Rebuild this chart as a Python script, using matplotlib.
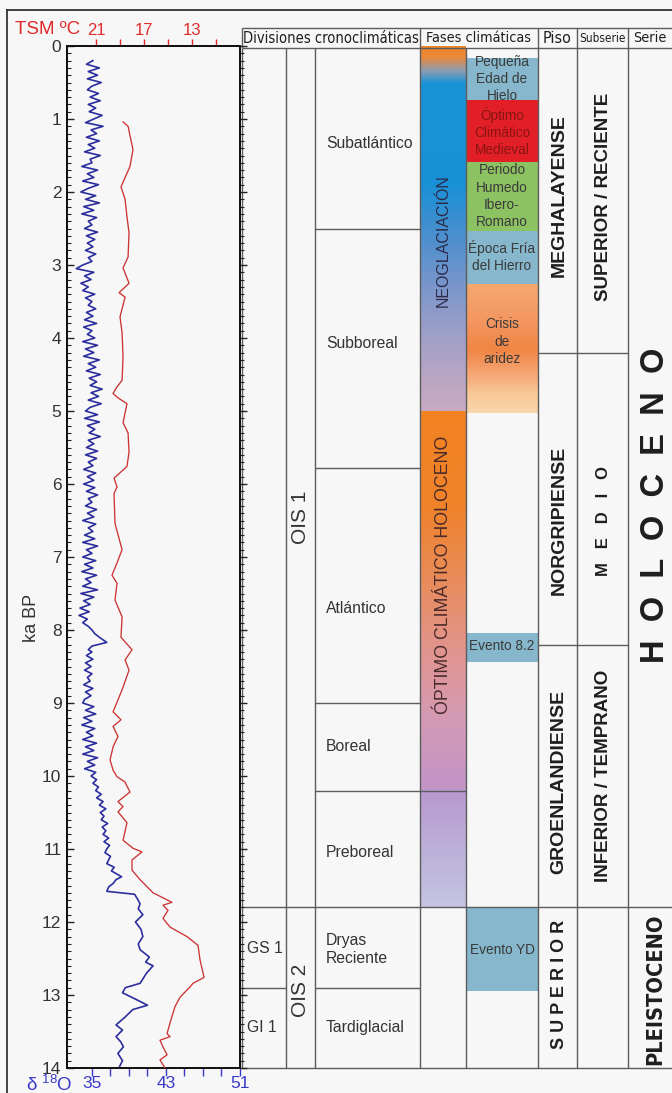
import numpy as np
import matplotlib
matplotlib.use('Agg')
import matplotlib.pyplot as plt
from matplotlib.colors import LinearSegmentedColormap
from matplotlib.patches import Rectangle
from matplotlib import font_manager
from matplotlib.font_manager import FontProperties

# ---------------- DATA ----------------
# delta 18O record (bottom axis), age in ka BP
d18o_age = [
 0.20,0.25,0.30,0.35,0.40,0.45,0.50,0.55,0.60,0.65,0.70,0.75,0.80,0.85,0.90,0.95,
 1.00,1.05,1.10,1.15,1.20,1.25,1.30,1.35,1.40,1.45,1.50,1.55,1.60,1.65,1.70,1.75,1.80,1.85,1.90,1.95,
 2.00,2.05,2.10,2.15,2.20,2.25,2.30,2.35,2.40,2.45,2.50,2.55,2.60,2.65,2.70,2.75,2.80,2.85,2.90,2.95,
 3.00,3.05,3.10,3.15,3.20,3.25,3.30,3.35,3.40,3.45,3.50,3.55,3.60,3.65,3.70,3.75,3.80,3.85,3.90,3.95,
 4.00,4.05,4.10,4.15,4.20,4.25,4.30,4.35,4.40,4.45,4.50,4.55,4.60,4.65,4.70,4.75,4.80,4.85,4.90,4.95,
 5.00,5.05,5.10,5.15,5.20,5.25,5.30,5.35,5.40,5.45,5.50,5.55,5.60,5.65,5.70,5.75,5.80,5.85,5.90,5.95,
 6.00,6.05,6.10,6.15,6.20,6.25,6.30,6.35,6.40,6.45,6.50,6.55,6.60,6.65,6.70,6.75,6.80,6.85,6.90,6.95,
 7.00,7.05,7.10,7.15,7.20,7.25,7.30,7.35,7.40,7.45,7.50,7.55,7.60,7.65,7.70,7.75,7.80,7.85,7.90,7.95,
 8.00,8.05,8.10,8.17,8.22,8.27,8.30,8.35,8.40,8.45,8.50,8.55,8.60,8.65,8.70,8.75,8.80,8.85,8.90,8.95,
 9.00,9.05,9.10,9.15,9.20,9.25,9.30,9.35,9.40,9.45,9.50,9.55,9.60,9.65,9.70,9.75,9.80,9.85,9.90,9.95,
 10.00,10.05,10.10,10.15,10.20,10.25,10.30,10.35,10.40,10.45,10.50,10.55,10.60,10.65,10.70,10.75,10.80,10.85,10.90,10.95,
 11.00,11.05,11.10,11.20,11.25,11.30,11.38,11.42,11.47,11.52,11.58,11.62,11.68,11.75,11.82,11.90,
 12.00,12.10,12.20,12.30,12.38,12.48,12.55,12.60,12.70,12.84,12.90,12.97,13.05,13.14,13.20,13.30,
 13.41,13.48,13.57,13.64,13.71,13.80,13.90,14.00]
d18o_val = [
 35.1,34.4,35.8,34.6,35.6,34.5,36.0,35.0,34.5,35.7,34.8,35.9,34.6,35.4,34.7,36.1,
 35.2,34.3,36.2,34.9,35.5,34.4,35.8,34.6,35.3,34.2,35.9,34.8,35.0,33.9,35.6,34.5,35.2,34.0,35.7,34.6,
 33.8,35.4,34.3,35.8,34.1,35.2,33.9,35.5,34.6,35.0,34.2,35.6,34.4,35.3,34.5,35.1,34.3,35.4,34.6,35.0,
 34.0,33.3,35.2,34.2,34.9,33.8,34.6,34.0,35.3,34.3,35.0,34.6,35.4,34.4,35.1,34.2,35.5,34.1,35.0,34.5,
 35.3,34.0,35.6,34.3,35.2,34.1,35.8,34.6,35.4,34.4,35.9,34.7,35.5,34.8,36.1,34.9,35.7,34.6,36.0,34.8,
 34.3,35.6,34.2,35.8,34.5,35.3,34.7,35.9,34.6,35.2,34.4,35.6,34.3,35.5,34.6,35.1,34.1,35.4,34.5,35.2,
 34.1,35.3,34.4,35.6,34.6,35.0,34.3,35.5,34.5,35.2,34.0,35.4,34.6,35.1,34.2,35.3,34.0,35.6,34.4,35.0,
 34.0,35.4,34.2,35.1,33.9,35.5,34.3,34.9,34.0,35.6,33.8,35.2,34.1,34.8,33.7,34.7,33.6,34.5,34.0,34.6,
 35.0,35.3,35.8,36.6,35.0,34.6,35.0,34.4,35.1,34.3,34.9,34.2,35.0,34.5,34.8,34.1,35.1,34.3,34.9,34.2,
 34.0,35.2,34.3,35.4,34.1,35.0,33.9,35.3,34.4,35.1,34.0,35.5,34.3,35.2,34.0,35.6,34.5,35.3,34.2,35.4,
 34.9,35.5,35.1,35.7,35.4,36.0,35.5,36.2,35.8,36.5,35.9,36.3,36.0,36.7,36.1,36.5,36.2,36.8,36.3,36.9,
 36.6,36.4,37.0,36.6,37.4,37.1,38.2,37.6,37.3,36.8,36.6,39.6,39.9,40.2,40.0,40.5,
 39.7,40.3,40.5,40.0,40.2,41.2,40.8,41.6,40.9,40.2,38.6,38.3,39.6,41.0,39.4,38.6,
 37.6,38.3,37.6,38.1,38.4,37.8,38.3,37.9]

# Sea-surface temperature TSM (top axis, ºC)
tsm_age = [1.04,1.10,1.42,1.65,1.93,2.10,2.34,2.56,2.89,3.04,3.25,3.38,3.44,3.71,3.93,4.26,4.58,
           4.68,4.76,4.82,4.90,5.16,5.30,5.56,5.76,5.92,6.04,6.13,6.54,6.90,7.08,7.25,7.36,7.59,
           7.82,8.10,8.27,8.41,8.55,8.82,9.12,9.23,9.32,9.46,9.60,9.78,9.92,10.01,10.08,10.22,
           10.35,10.42,10.49,10.64,10.88,10.99,11.04,11.15,11.29,11.42,11.60,11.73,11.77,11.84,
           11.95,12.07,12.20,12.32,12.52,12.70,12.76,12.84,12.89,13.03,13.16,13.38,13.53,13.57,
           13.62,13.71,13.82,13.89,14.00]
tsm_val = [18.75,18.33,17.92,18.17,18.92,18.58,18.42,18.25,18.33,18.75,18.25,19.08,18.58,19.00,18.83,18.75,18.83,
           19.30,19.58,19.17,18.42,18.75,18.33,18.25,18.42,19.50,19.25,19.50,19.42,18.83,19.25,19.67,19.25,19.42,
           18.83,18.92,18.00,18.58,18.25,18.83,19.58,18.92,19.58,19.17,19.58,19.83,19.58,19.25,18.60,18.17,
           19.17,18.75,19.17,18.42,18.75,17.92,17.17,18.00,18.00,17.33,16.25,14.67,15.42,15.00,
           15.42,14.83,13.42,12.50,12.33,12.08,12.00,12.92,13.17,14.00,14.42,14.83,15.08,14.83,
           15.67,15.42,15.08,15.67,15.25]

d18o_ticks = [35, 37, 39, 41, 43, 45, 47, 49, 51]
d18o_ticklabels = ['35', '', '', '', '43', '', '', '', '51']
tsm_ticks = [21, 19, 17, 15, 13, 11]
tsm_ticklabels = ['21', '', '17', '', '13', '']
age_ticks = list(range(0, 15))

# Chronoclimatic divisions (ka boundaries)
div_names = ['Subatlántico', 'Subboreal', 'Atlántico', 'Boreal', 'Preboreal', 'Dryas\nReciente', 'Tardiglacial']
div_bounds = [0.0, 2.5, 5.78, 9.0, 10.2, 11.8, 12.9, 14.0]
gs_names = ['GS 1', 'GI 1']
gs_bounds = [11.8, 12.9, 14.0]
ois_names = ['OIS 1', 'OIS 2']
ois_bounds = [0.0, 11.8, 14.0]

# Climatic phases
bar_names = ['NEOGLACIACIÓN', 'ÓPTIMO CLIMÁTICO HOLOCENO']
bar_bounds = [0.0, 5.0, 10.2, 11.8]
event_names = ['Pequeña\nEdad de\nHielo', 'Óptimo\nClimático\nMedieval', 'Periodo\nHumedo\nIbero-\nRomano',
               'Época Fría\ndel Hierro', 'Crisis\nde\naridez', 'Evento 8.2', 'Evento YD']
event_top = [0.16, 0.74, 1.59, 2.53, 3.27, 8.04, 11.8]
event_bot = [0.74, 1.59, 2.53, 3.27, 5.03, 8.44, 12.94]

piso_names = ['MEGHALAYENSE', 'NORGRIPIENSE', 'GROENLANDIENSE', 'S U P E R I O R']
piso_bounds = [0.0, 4.2, 8.2, 11.8, 14.0]
subserie_names = ['SUPERIOR / RECIENTE', 'M   E   D   I   O', 'INFERIOR / TEMPRANO', '']
serie_names = ['H  O  L  O  C  E  N  O', 'PLEISTOCENO']
serie_bounds = [0.0, 11.8, 14.0]

headers = ['Divisiones cronoclimáticas', 'Fases climáticas', 'Piso', 'Subserie', 'Serie']

# ---------------- STYLE / LAYOUT ----------------
W, H = 672, 1093
BG = '#f7f7f7'
LINE = '#5c5c5c'
TXT = '#333333'
BLUE = '#2b2e9c'
RED = '#cc3333'
FONT = ['Liberation Sans', 'DejaVu Sans']
plt.rcParams['font.family'] = FONT
plt.rcParams['mathtext.fontset'] = 'custom'
plt.rcParams['mathtext.rm'] = 'Liberation Sans'
plt.rcParams['mathtext.it'] = 'Liberation Sans:italic'
plt.rcParams['mathtext.bf'] = 'Liberation Sans:bold'


def _wt(f):
    w = f.weight
    if isinstance(w, str):
        return 700 if 'bold' in w else 400
    return int(w)


def find_condensed(bold):
    best = None
    for f in font_manager.fontManager.ttflist:
        cond = (f.stretch in ('condensed', 'semi-condensed', 'extra-condensed', 'ultra-condensed')
                or 'Narrow' in f.name or 'Condensed' in f.name)
        if not cond or f.style != 'normal':
            continue
        w = _wt(f)
        if (bold and w >= 600) or (not bold and 350 <= w <= 500):
            if best is None or 'Liberation' in f.name or 'Arial' in f.name:
                best = f
    return best


_cr = find_condensed(False)
_cb = find_condensed(True)
FP_NARROW = FontProperties(fname=_cr.fname) if _cr else FontProperties(family=FONT)
FP_NARROW_B = FontProperties(fname=_cb.fname) if _cb else FontProperties(family=FONT, weight='bold')

Y0, PXK = 46.0, 73.0
def kay(ypx):
    return (ypx - Y0) / PXK

fig = plt.figure(figsize=(W / 100, H / 100), dpi=100, facecolor=BG)
renderer = fig.canvas.get_renderer()

def fit(t, target, vertical=False, maxsize=None):
    bb = t.get_window_extent(renderer)
    cur = bb.height if vertical else bb.width
    s = t.get_fontsize() * target / cur
    if maxsize is not None:
        s = min(s, maxsize)
    t.set_fontsize(s)

# overlay axes in (pixel x, ka y)
axT = fig.add_axes([0, 0, 1, 1], zorder=0)
axT.set_axis_off()
axT.set_xlim(0, W)
axT.set_ylim(kay(H), kay(0))

# ---- plot axes ----
px0, px1, pyt, pyb = 67, 240, 46, 1068
ax = fig.add_axes([px0 / W, 1 - pyb / H, (px1 - px0) / W, (pyb - pyt) / H], zorder=2)
ax.set_facecolor(BG)
ax.set_ylim(14, 0)
ax.set_xlim(32.3, 51.0)
ax.plot(d18o_val, d18o_age, color=BLUE, lw=1.2, zorder=3)
ax.set_yticks(age_ticks)
ax.set_yticks(np.arange(0, 14.01, 0.1), minor=True)
ax.tick_params(axis='y', which='major', direction='in', length=5, width=1, labelsize=12.5, pad=4)
ax.tick_params(axis='y', which='minor', direction='in', length=3, width=0.8)
ax.tick_params(axis='y', which='both', colors='#222222', labelcolor=TXT, left=True, right=False)
ax.set_xticks(d18o_ticks)
ax.set_xticklabels(d18o_ticklabels)
ax.tick_params(axis='x', direction='out', length=6, width=1, colors='#3a3ac8', labelsize=12.5, pad=-0.5)
ax.set_ylabel('ka BP', fontsize=13, color=TXT)
ax.yaxis.set_label_coords(-0.155, 0.44)
for s in ax.spines.values():
    s.set_linewidth(1.3)
    s.set_color('#111111')

# right-side ticks pointing outward (into table)
axr = ax.secondary_yaxis('right')
axr.set_yticks(age_ticks)
axr.set_yticks(np.arange(0, 14.01, 0.1), minor=True)
axr.tick_params(axis='y', which='major', direction='out', length=5, width=1, colors='#222222', labelright=False)
axr.tick_params(axis='y', which='minor', direction='out', length=3, width=0.8, colors='#222222')
axr.set_yticklabels([])
axr.spines['right'].set_linewidth(1.3)

ax2 = ax.twiny()
ax2.set_xlim(23.42, 9.0)
ax2.plot(tsm_val, tsm_age, color=RED, lw=0.95, zorder=3)
ax2.set_xticks(tsm_ticks)
ax2.set_xticklabels(tsm_ticklabels)
ax2.tick_params(axis='x', direction='out', length=5, width=1, colors='#e02a2a', labelsize=12, pad=1)
for s in ax2.spines.values():
    s.set_linewidth(1.3)
    s.set_color('#111111')

fig.text(15 / W, 1 - 30 / H, 'TSM ºC', color='#e02a2a', fontsize=13.5, ha='left', va='center')
fig.text(26 / W, 1 - 1085 / H, r'δ $\mathregular{^{18}}$O', color='#3a3ac8', fontsize=13.5,
         ha='left', va='center')

# ---- outer frame ----
axT.plot([7, 7], [kay(10), kay(1100)], color='#333333', lw=1.3)
axT.plot([7, 680], [kay(10), kay(10)], color='#333333', lw=1.3)

# ---- gradients ----
def vgrad(x0, x1, k0, k1, stops, z=1):
    pos = [(k - k0) / (k1 - k0) for k, _ in stops]
    cmap = LinearSegmentedColormap.from_list('g', list(zip(pos, [c for _, c in stops])))
    vals = np.linspace(0, 1, 400)[:, None]
    axT.imshow(vals, cmap=cmap, extent=(x0, x1, k1, k0), origin='upper', aspect='auto',
               interpolation='bilinear', zorder=z)

vgrad(420, 466, bar_bounds[0], bar_bounds[1],
      [(0.0, '#f0862a'), (0.14, '#e88a3c'), (0.32, '#8e9cb0'), (0.5, '#1893d8'), (1.9, '#1a90d6'),
       (2.6, '#4a8fce'), (3.3, '#7a96cb'), (4.0, '#a0a0c8'), (4.6, '#bca6c4'), (5.0, '#c8aac2')])
vgrad(420, 466, bar_bounds[1], bar_bounds[2],
      [(5.0, '#f08222'), (6.3, '#f0822a'), (7.3, '#e88c5a'), (8.2, '#e2948a'), (9.2, '#d49ab4'),
       (10.2, '#c294c8')])
vgrad(420, 466, bar_bounds[2], bar_bounds[3],
      [(10.2, '#b898d0'), (11.0, '#bcb0d8'), (11.8, '#c4c4e2')])

EV_BLUE = '#86b7cc'
ev_colors = [EV_BLUE, '#e21f26', '#8dc263', EV_BLUE, None, EV_BLUE, EV_BLUE]
for i, (t, b) in enumerate(zip(event_top, event_bot)):
    if ev_colors[i] is None:
        vgrad(466.5, 537.5, t, b, [(t, '#f5a870'), (t + 0.5, '#f39660'), (t + 0.9, '#f08544'),
                                   (t + 1.25, '#f6a878'), (t + 1.5, '#f8c898'), (b, '#f9d6ac')])
    else:
        axT.add_patch(Rectangle((466.5, t), 71, b - t, facecolor=ev_colors[i], edgecolor='none', zorder=1))

# ---- table lines ----
def hl(x0, x1, k, lw=1.0):
    axT.plot([x0, x1], [k, k], color=LINE, lw=lw, zorder=4, solid_capstyle='butt')

def vl(x, k0, k1, lw=1.0):
    axT.plot([x, x], [k0, k1], color=LINE, lw=lw, zorder=4, solid_capstyle='butt')

hk0, hk1 = kay(28), kay(47.5)
hl(242, 680, hk0)
hl(242, 680, hk1)
for x in [242, 420, 538, 577, 628]:
    vl(x, hk0, hk1)
for x in [242, 286, 315, 420, 466, 538, 577, 628]:
    vl(x, hk1, 14.0)
hl(242, 680, 14.0)
for k in div_bounds[1:5]:
    hl(315, 466 if k == 10.2 else 420, k)
hl(242, 680, 11.8)
hl(242, 286, 12.9)
hl(315, 420, 12.9)
for k in piso_bounds[1:3]:
    hl(538, 628, k)

# ---- header texts ----
hk = kay(38.5)
hx = [331, 479, 557.5, 602.5, 650]
hw = [174, 105, 29, 46, 33]
for name, x, w in zip(headers, hx, hw):
    t = axT.text(x, hk, name, ha='center', va='center', fontproperties=FP_NARROW,
                 color='#1e1e1e', zorder=5)
    t.set_fontsize(12)
    fit(t, w, maxsize=13.5)

# ---- divisions ----
div_y = [1.33, 4.08, 7.7, 9.6, 11.05, 12.38, 13.44]
for name, k in zip(div_names, div_y):
    axT.text(326, k, name, ha='left', va='center', fontsize=11.3, color=TXT, linespacing=1.25, zorder=5)
for name, k in zip(gs_names, [12.36, 13.44]):
    axT.text(247, k, name, ha='left', va='center', fontsize=11.3, color=TXT, zorder=5)
for name, k in zip(ois_names, [6.45, 12.93]):
    axT.text(300.5, k, name, ha='center', va='center', fontsize=15, rotation=90, color=TXT, zorder=5)

# ---- phases ----
axT.text(443, 2.66, bar_names[0], ha='center', va='center', rotation=90, fontsize=11.5,
         color='#2a2a48', zorder=5)
axT.text(443, 7.25, bar_names[1], ha='center', va='center', rotation=90, fontsize=12.8,
         color='#4a2a2a', zorder=5)
ev_text_colors = ['#3a3a3a', '#8a1414', '#3a3a3a', '#3a3a3a', '#3a3a3a', '#3a3a3a', '#3a3a3a']
ev_text_y = [0.45, 1.18, 2.06, 2.88, 4.05, 8.22, 12.38]
for name, k, c in zip(event_names, ev_text_y, ev_text_colors):
    axT.text(502, k, name, ha='center', va='center', fontsize=9.8, color=c, linespacing=1.3, zorder=5)

# ---- piso / subserie / serie ----
piso_y = [2.05, 6.5, 10.08, 12.86]
piso_fs = [14, 14, 14, 13]
for name, k, s in zip(piso_names, piso_y, piso_fs):
    axT.text(559, k, name, ha='center', va='center', rotation=90, fontsize=s, fontweight='bold',
             color='#1e1e1e', zorder=5)
sub_y = [2.07, 6.5, 10.0]
sub_fs = [13.5, 12, 13.5]
for name, k, s in zip(subserie_names[:3], sub_y, sub_fs):
    axT.text(604, k, name, ha='center', va='center', rotation=90, fontsize=s, fontweight='bold',
             color='#1e1e1e', zorder=5)
axT.text(655, 6.29, serie_names[0], ha='center', va='center', rotation=90, fontsize=23.5,
         fontweight='bold', color='#1e1e1e', zorder=5)
tp = axT.text(655.5, 12.92, serie_names[1], ha='center', va='center', rotation=90,
              fontproperties=FP_NARROW_B, color='#1e1e1e', zorder=5)
tp.set_fontsize(18)
fit(tp, 152, vertical=True, maxsize=25)

fig.savefig('out.png', dpi=100, facecolor=BG)
